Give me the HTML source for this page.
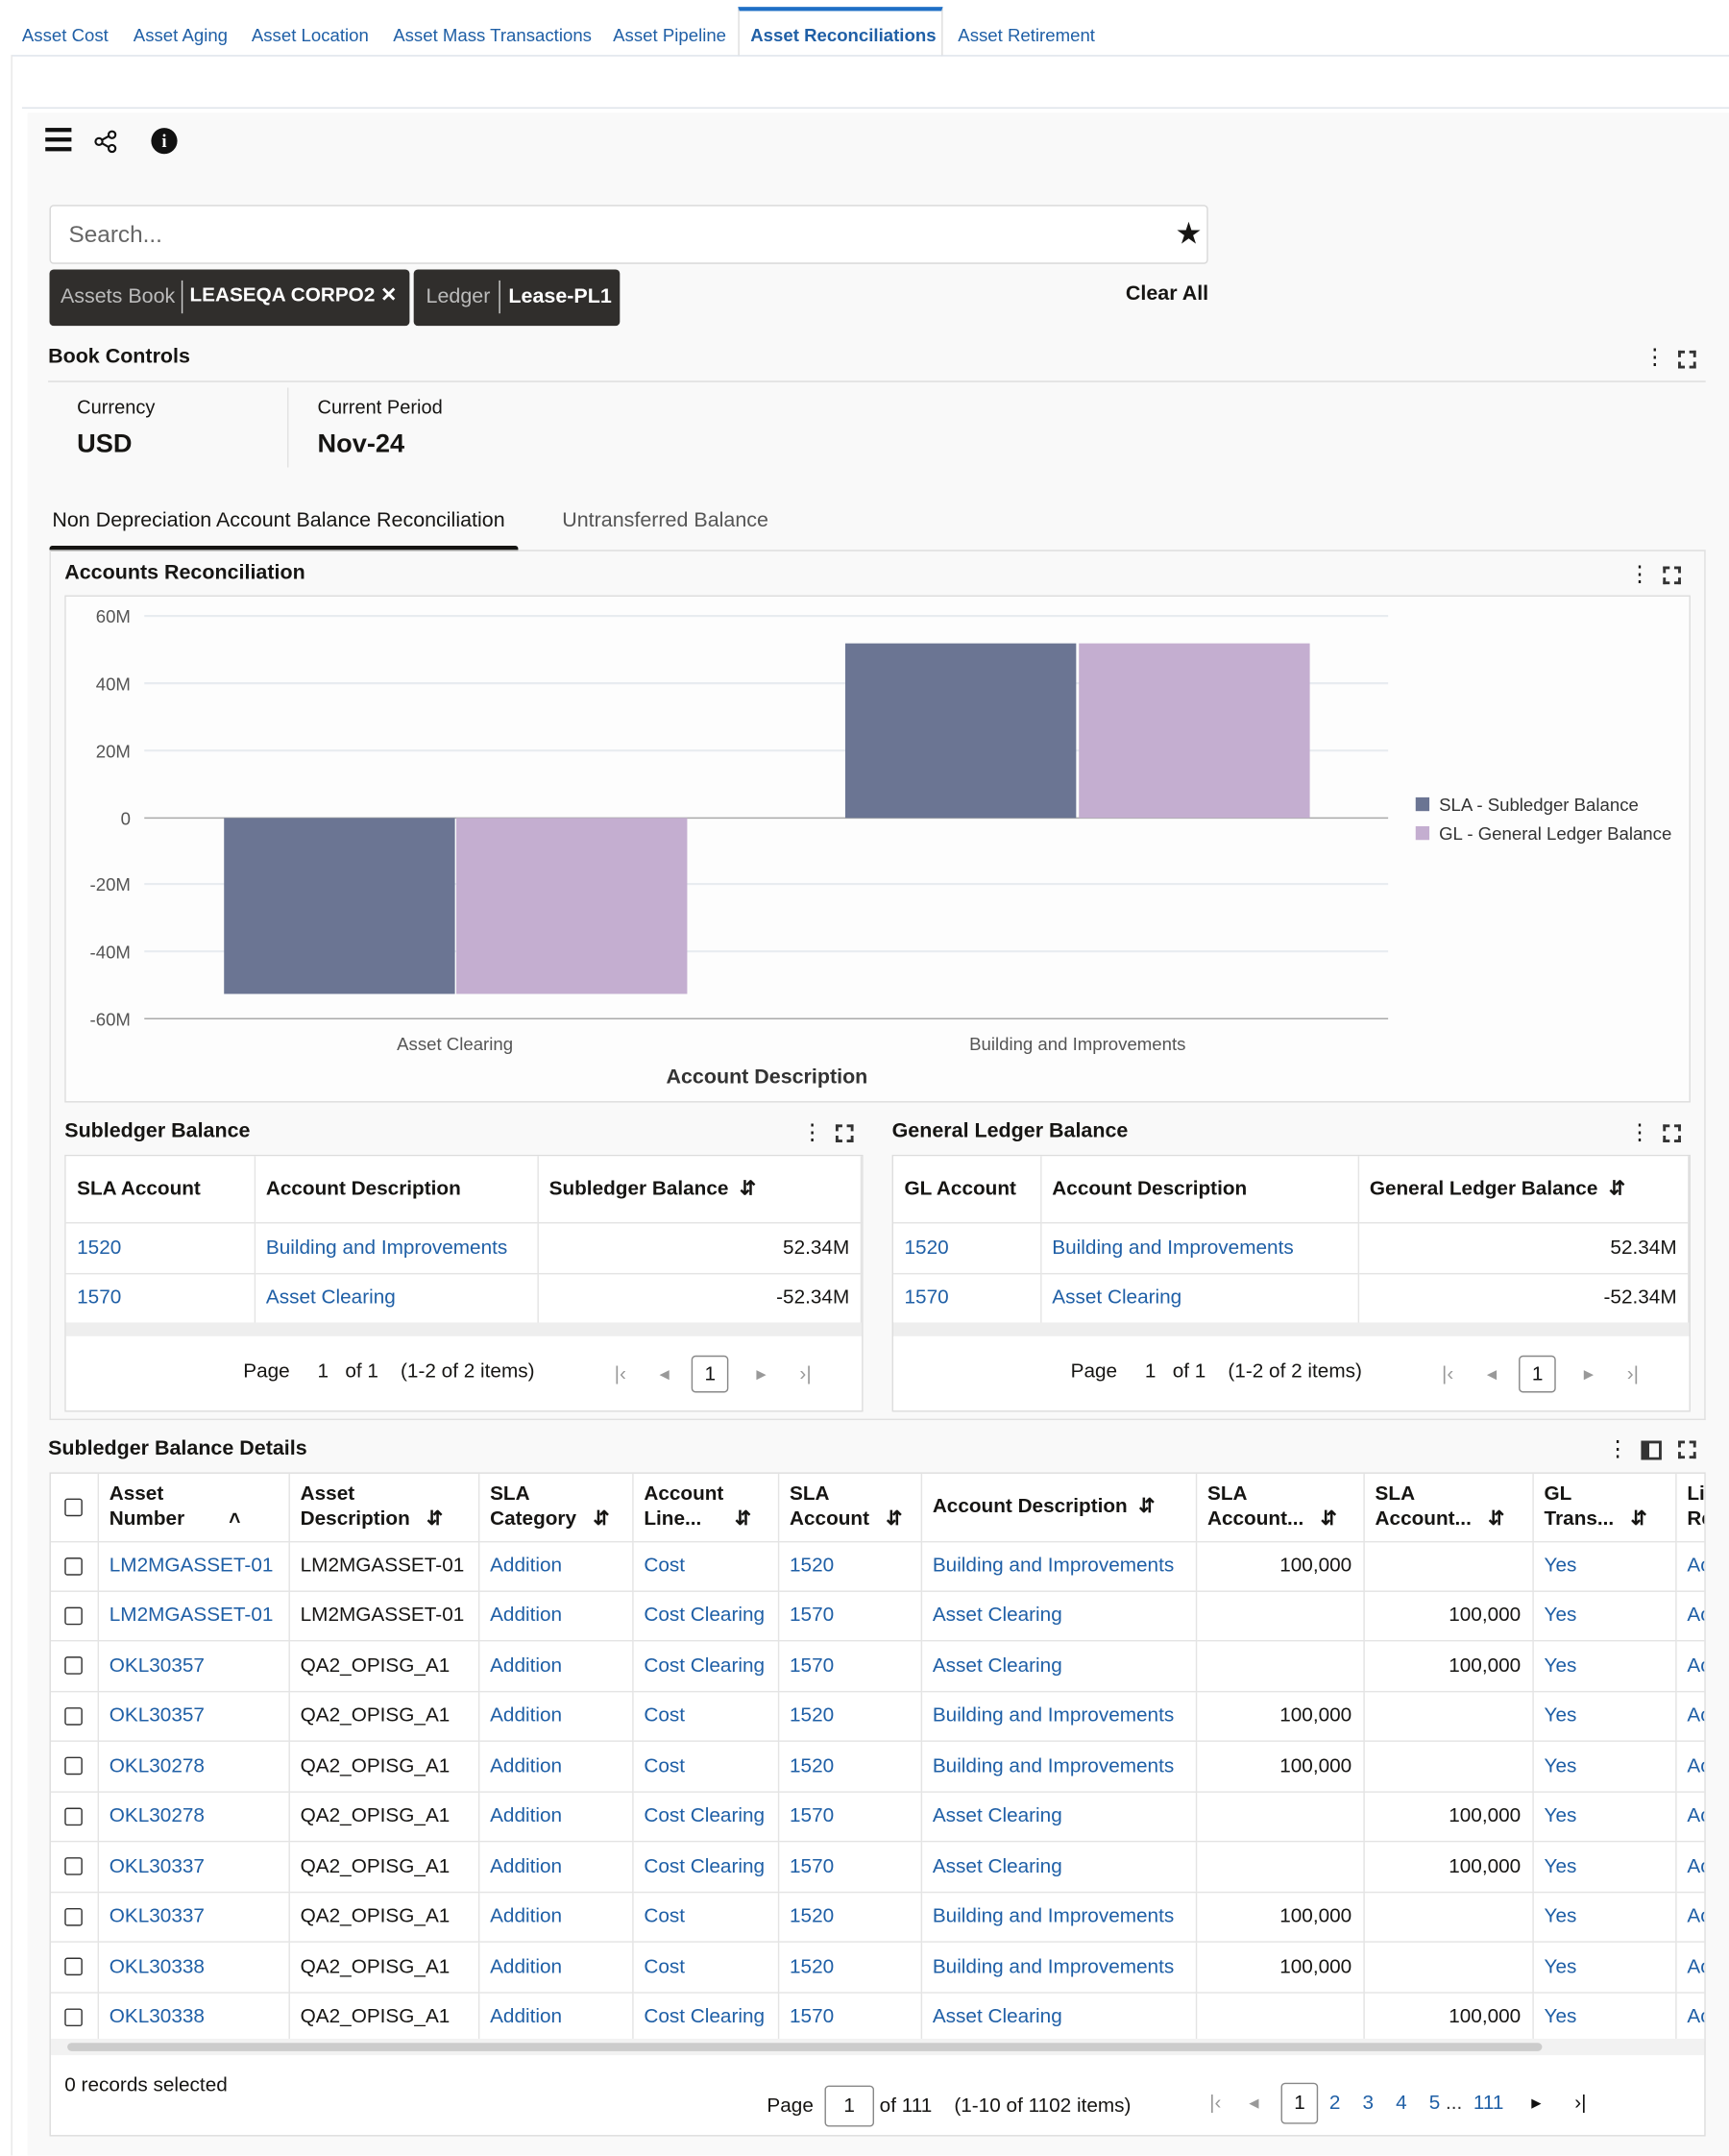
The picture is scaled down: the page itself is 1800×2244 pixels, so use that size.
<!DOCTYPE html>
<html><head><meta charset="utf-8">
<style>
*{box-sizing:border-box;margin:0;padding:0}
html,body{width:1800px;height:2243px;overflow:hidden;background:#fff}
#s{position:absolute;left:0;top:0;width:1258px;height:1568px;transform:scale(1.43084);transform-origin:0 0;font-family:"Liberation Sans",sans-serif;color:#161513}
.a{position:absolute;white-space:nowrap}
.l{color:#1f5fa6}
.b{font-weight:bold}
.t{font-size:13px;color:#1f5fa6;top:18px}
table{border-collapse:collapse;position:absolute;background:#fff}
td,th{border-right:1px solid #e4e4e4;border-bottom:1px solid #e4e4e4;font-size:14.5px;padding:0 8px;text-align:left;white-space:nowrap;overflow:hidden}
th{font-weight:bold;font-size:14.5px}
.r{text-align:right}
.cb{display:inline-block;width:13px;height:13px;border:1.5px solid #333;border-radius:2px;vertical-align:middle}
.pg{position:absolute;font-size:14.5px;white-space:nowrap}
.box1{display:inline-block;border:1px solid #888;border-radius:3px;width:27px;height:27px;text-align:center;line-height:26px}
</style></head><body><div id="s">
<div class="a t" style="left:16px">Asset Cost</div>
<div class="a t" style="left:97px">Asset Aging</div>
<div class="a t" style="left:183px">Asset Location</div>
<div class="a t" style="left:286px">Asset Mass Transactions</div>
<div class="a t" style="left:446px">Asset Pipeline</div>
<div class="a" style="left:537px;top:5px;width:149px;height:36px;border-top:3px solid #1f6fc6;border-left:1px solid #ddd;border-right:1px solid #ddd;background:#fff"></div>
<div class="a t b" style="left:546px;color:#1f5fa6">Asset Reconciliations</div>
<div class="a t" style="left:697px">Asset Retirement</div>
<div class="a" style="left:8px;top:40px;width:1250px;height:1px;background:#dde3ea"></div>
<div class="a" style="left:8px;top:40px;width:1px;height:1528px;background:#e8e8e8"></div>
<div class="a" style="left:16px;top:78px;width:1242px;height:1px;background:#dde3ea"></div>
<div class="a" style="left:20px;top:82px;width:1238px;height:1486px;background:#f9f9f9"></div>
<div class="a" style="left:33px;top:93px;width:19px;height:3px;background:#111;box-shadow:0 7px 0 #111,0 14px 0 #111"></div>
<svg class="a" style="left:68px;top:94px" width="18" height="18"><g stroke="#111" stroke-width="1.5" fill="none"><line x1="4" y1="9" x2="13" y2="4"/><line x1="4" y1="9" x2="13" y2="14"/><circle cx="4" cy="9" r="2.5" fill="#fff"/><circle cx="13.5" cy="4" r="2.5" fill="#fff"/><circle cx="13.5" cy="14" r="2.5" fill="#fff"/></g></svg>
<div class="a" style="left:110px;top:93px;width:19px;height:19px;border-radius:50%;background:#111;color:#fff;font-weight:bold;font-size:13px;text-align:center;line-height:19px;font-family:'Liberation Serif',serif">i</div>
<div class="a" style="left:36px;top:149px;width:843px;height:43px;background:#fff;border:1px solid #d8d8d8;border-radius:3px"></div>
<div class="a" style="left:50px;top:161px;font-size:17px;color:#666">Search...</div>
<div class="a" style="left:855px;top:157px;font-size:22px">&#9733;</div>
<div class="a" style="left:36px;top:196px;width:262px;height:41px;background:#302e2c;border-radius:3px"></div>
<div class="a" style="left:44px;top:207px;font-size:15px;color:#bbb">Assets Book</div>
<div class="a" style="left:132px;top:204px;width:1px;height:24px;background:#ccc"></div>
<div class="a b" style="left:138px;top:207px;font-size:14.5px;color:#fff">LEASEQA CORPO2 &#10005;</div>
<div class="a" style="left:301px;top:196px;width:150px;height:41px;background:#302e2c;border-radius:3px"></div>
<div class="a" style="left:310px;top:207px;font-size:15px;color:#bbb">Ledger</div>
<div class="a" style="left:363px;top:204px;width:1px;height:24px;background:#ccc"></div>
<div class="a b" style="left:370px;top:207px;font-size:15px;color:#fff">Lease-PL1</div>
<div class="a b" style="left:819px;top:205px;font-size:15px">Clear All</div>
<div class="a b" style="left:35px;top:251px;font-size:15px">Book Controls</div>
<div class="a" style="left:1196px;top:250px;font-size:16px">&#8942;</div>
<div class="a" style="left:1221px;top:255px;width:13px;height:13px;border:2px dashed #333"></div>
<div class="a" style="left:35px;top:277px;width:1206px;height:1px;background:#ddd"></div>
<div class="a" style="left:56px;top:288px;font-size:14px">Currency</div>
<div class="a b" style="left:56px;top:313px;font-size:19px">USD</div>
<div class="a" style="left:209px;top:282px;width:1px;height:58px;background:#e2e2e2"></div>
<div class="a" style="left:231px;top:288px;font-size:14px">Current Period</div>
<div class="a b" style="left:231px;top:313px;font-size:19px">Nov-24</div>
<div class="a" style="left:38px;top:370px;font-size:15px">Non Depreciation Account Balance Reconciliation</div>
<div class="a" style="left:409px;top:370px;font-size:15px;color:#555">Untransferred Balance</div>
<div class="a" style="left:36px;top:397px;width:341px;height:4px;background:#161513;border-radius:2px 2px 0 0"></div>
<div class="a" style="left:36px;top:400px;width:1205px;height:633px;border:1px solid #e0e0e0;border-top:1px solid #ddd"></div>
<div class="a b" style="left:47px;top:408px;font-size:15px">Accounts Reconciliation</div>
<div class="a" style="left:1185px;top:408px;font-size:16px">&#8942;</div>
<div class="a" style="left:1210px;top:412px;width:13px;height:13px;border:2px dashed #333"></div>
<div class="a" style="left:47px;top:433px;width:1183px;height:369px;background:#fdfdfd;border:1px solid #ddd"></div>
<svg class="a" style="left:47px;top:433px" width="1183" height="369" font-family="Liberation Sans,sans-serif">
<g stroke="#e8ecf0" stroke-width="1.5">
<line x1="58" x2="963" y1="15" y2="15"/><line x1="58" x2="963" y1="64" y2="64"/><line x1="58" x2="963" y1="113" y2="113"/><line x1="58" x2="963" y1="210" y2="210"/><line x1="58" x2="963" y1="259" y2="259"/></g>
<line x1="58" x2="963" y1="162" y2="162" stroke="#aaa"/>
<line x1="58" x2="963" y1="308" y2="308" stroke="#aaa"/>
<g font-size="13" fill="#555" text-anchor="end">
<text x="48" y="20">60M</text><text x="48" y="69">40M</text><text x="48" y="118">20M</text><text x="48" y="167">0</text><text x="48" y="215">-20M</text><text x="48" y="264">-40M</text><text x="48" y="313">-60M</text></g>
<rect x="116" y="162" width="168" height="128" fill="#6b7593"/>
<rect x="285" y="162" width="168" height="128" fill="#c4aed0"/>
<rect x="568" y="35" width="168" height="127" fill="#6b7593"/>
<rect x="738" y="35" width="168" height="127" fill="#c4aed0"/>
<g font-size="13" fill="#555" text-anchor="middle"><text x="284" y="331">Asset Clearing</text><text x="737" y="331">Building and Improvements</text></g>
<text x="511" y="355" font-size="15" font-weight="bold" fill="#333" text-anchor="middle">Account Description</text>
<rect x="983" y="147" width="10" height="10" fill="#6b7593"/><text x="1000" y="157" font-size="13" fill="#333">SLA - Subledger Balance</text>
<rect x="983" y="168" width="10" height="10" fill="#c4aed0"/><text x="1000" y="178" font-size="13" fill="#333">GL - General Ledger Balance</text>
</svg>
<div class="a b" style="left:47px;top:814px;font-size:15px">Subledger Balance</div>
<div class="a" style="left:583px;top:814px;font-size:16px">&#8942;</div>
<div class="a" style="left:608px;top:818px;width:13px;height:13px;border:2px dashed #333"></div>
<div class="a" style="left:47px;top:840px;width:581px;height:187px;border:1px solid #ddd;background:#fff"></div>
<table style="left:48px;top:841px;width:579px">
<tr style="height:48px"><th style="width:137px">SLA Account</th><th style="width:206px">Account Description</th><th>Subledger Balance &nbsp;&#8693;</th></tr>
<tr style="height:37px"><td class="l">1520</td><td class="l">Building and Improvements</td><td class="r">52.34M</td></tr>
<tr style="height:36px"><td class="l">1570</td><td class="l">Asset Clearing</td><td class="r">-52.34M</td></tr></table>
<div class="a" style="left:48px;top:962px;width:579px;height:10px;background:#eee"></div>
<div class="pg" style="left:177px;top:990px">Page &nbsp;&nbsp;&nbsp;&nbsp;1 &nbsp;&nbsp;of 1 &nbsp;&nbsp;&nbsp;(1-2 of 2 items)</div>
<div class="pg" style="left:447px;top:986px;color:#999">|&#8249; &nbsp;&nbsp;&nbsp;&nbsp;&nbsp;&#9666;&nbsp;&nbsp;&nbsp;&nbsp;<span class="box1" style="color:#111">1</span>&nbsp;&nbsp;&nbsp;&nbsp;&nbsp;&#9656;&nbsp;&nbsp;&nbsp;&nbsp;&nbsp;&nbsp;&#8250;|</div>
<div class="a b" style="left:649px;top:814px;font-size:15px">General Ledger Balance</div>
<div class="a" style="left:1185px;top:814px;font-size:16px">&#8942;</div>
<div class="a" style="left:1210px;top:818px;width:13px;height:13px;border:2px dashed #333"></div>
<div class="a" style="left:649px;top:840px;width:581px;height:187px;border:1px solid #ddd;background:#fff"></div>
<table style="left:650px;top:841px;width:579px">
<tr style="height:48px"><th style="width:107px">GL Account</th><th style="width:231px">Account Description</th><th>General Ledger Balance &nbsp;&#8693;</th></tr>
<tr style="height:37px"><td class="l">1520</td><td class="l">Building and Improvements</td><td class="r">52.34M</td></tr>
<tr style="height:36px"><td class="l">1570</td><td class="l">Asset Clearing</td><td class="r">-52.34M</td></tr></table>
<div class="a" style="left:650px;top:962px;width:579px;height:10px;background:#eee"></div>
<div class="pg" style="left:779px;top:990px">Page &nbsp;&nbsp;&nbsp;&nbsp;1 &nbsp;&nbsp;of 1 &nbsp;&nbsp;&nbsp;(1-2 of 2 items)</div>
<div class="pg" style="left:1049px;top:986px;color:#999">|&#8249; &nbsp;&nbsp;&nbsp;&nbsp;&nbsp;&#9666;&nbsp;&nbsp;&nbsp;&nbsp;<span class="box1" style="color:#111">1</span>&nbsp;&nbsp;&nbsp;&nbsp;&nbsp;&#9656;&nbsp;&nbsp;&nbsp;&nbsp;&nbsp;&nbsp;&#8250;|</div>
<div class="a b" style="left:35px;top:1045px;font-size:15px">Subledger Balance Details</div>
<div class="a" style="left:1169px;top:1044px;font-size:16px">&#8942;</div>
<div class="a" style="left:1194px;top:1048px;width:15px;height:14px;border:2px solid #333;border-left-width:6px"></div>
<div class="a" style="left:1221px;top:1048px;width:13px;height:13px;border:2px dashed #333"></div>
<div class="a" style="left:36px;top:1071px;width:1205px;height:483px;border:1px solid #ddd;background:#fff;overflow:hidden">
<table style="left:0;top:0;width:1240px;table-layout:fixed">
<colgroup><col style="width:34px"><col style="width:139px"><col style="width:138px"><col style="width:112px"><col style="width:106px"><col style="width:104px"><col style="width:200px"><col style="width:122px"><col style="width:123px"><col style="width:104px"><col style="width:58px"></colgroup>
<tr style="height:49px;line-height:18px"><th style="padding:0 0 0 10px"><span class="cb"></span></th><th>Asset<br>Number &nbsp;&nbsp;&nbsp;&nbsp;&nbsp;&nbsp;&nbsp;&#708;</th><th>Asset<br>Description &nbsp;&nbsp;&#8693;</th><th>SLA<br>Category &nbsp;&nbsp;&#8693;</th><th>Account<br>Line... &nbsp;&nbsp;&nbsp;&nbsp;&nbsp;&#8693;</th><th>SLA<br>Account &nbsp;&nbsp;&#8693;</th><th>Account Description &nbsp;&#8693;</th><th>SLA<br>Account... &nbsp;&nbsp;&#8693;</th><th>SLA<br>Account... &nbsp;&nbsp;&#8693;</th><th>GL<br>Trans... &nbsp;&nbsp;&#8693;</th><th>Li<br>Re</th></tr>
<tr style="height:36px"><td style="padding:0 0 0 10px"><span class="cb"></span></td><td class="l">LM2MGASSET-01</td><td>LM2MGASSET-01</td><td class="l">Addition</td><td class="l">Cost</td><td class="l">1520</td><td class="l">Building and Improvements</td><td class="r">100,000</td><td></td><td class="l">Yes</td><td class="l">Ac</td></tr>
<tr style="height:36px"><td style="padding:0 0 0 10px"><span class="cb"></span></td><td class="l">LM2MGASSET-01</td><td>LM2MGASSET-01</td><td class="l">Addition</td><td class="l">Cost Clearing</td><td class="l">1570</td><td class="l">Asset Clearing</td><td></td><td class="r">100,000</td><td class="l">Yes</td><td class="l">Ac</td></tr>
<tr style="height:37px"><td style="padding:0 0 0 10px"><span class="cb"></span></td><td class="l">OKL30357</td><td>QA2_OPISG_A1</td><td class="l">Addition</td><td class="l">Cost Clearing</td><td class="l">1570</td><td class="l">Asset Clearing</td><td></td><td class="r">100,000</td><td class="l">Yes</td><td class="l">Ac</td></tr>
<tr style="height:36px"><td style="padding:0 0 0 10px"><span class="cb"></span></td><td class="l">OKL30357</td><td>QA2_OPISG_A1</td><td class="l">Addition</td><td class="l">Cost</td><td class="l">1520</td><td class="l">Building and Improvements</td><td class="r">100,000</td><td></td><td class="l">Yes</td><td class="l">Ac</td></tr>
<tr style="height:37px"><td style="padding:0 0 0 10px"><span class="cb"></span></td><td class="l">OKL30278</td><td>QA2_OPISG_A1</td><td class="l">Addition</td><td class="l">Cost</td><td class="l">1520</td><td class="l">Building and Improvements</td><td class="r">100,000</td><td></td><td class="l">Yes</td><td class="l">Ac</td></tr>
<tr style="height:36px"><td style="padding:0 0 0 10px"><span class="cb"></span></td><td class="l">OKL30278</td><td>QA2_OPISG_A1</td><td class="l">Addition</td><td class="l">Cost Clearing</td><td class="l">1570</td><td class="l">Asset Clearing</td><td></td><td class="r">100,000</td><td class="l">Yes</td><td class="l">Ac</td></tr>
<tr style="height:37px"><td style="padding:0 0 0 10px"><span class="cb"></span></td><td class="l">OKL30337</td><td>QA2_OPISG_A1</td><td class="l">Addition</td><td class="l">Cost Clearing</td><td class="l">1570</td><td class="l">Asset Clearing</td><td></td><td class="r">100,000</td><td class="l">Yes</td><td class="l">Ac</td></tr>
<tr style="height:36px"><td style="padding:0 0 0 10px"><span class="cb"></span></td><td class="l">OKL30337</td><td>QA2_OPISG_A1</td><td class="l">Addition</td><td class="l">Cost</td><td class="l">1520</td><td class="l">Building and Improvements</td><td class="r">100,000</td><td></td><td class="l">Yes</td><td class="l">Ac</td></tr>
<tr style="height:37px"><td style="padding:0 0 0 10px"><span class="cb"></span></td><td class="l">OKL30338</td><td>QA2_OPISG_A1</td><td class="l">Addition</td><td class="l">Cost</td><td class="l">1520</td><td class="l">Building and Improvements</td><td class="r">100,000</td><td></td><td class="l">Yes</td><td class="l">Ac</td></tr>
<tr style="height:36px"><td style="padding:0 0 0 10px"><span class="cb"></span></td><td class="l">OKL30338</td><td>QA2_OPISG_A1</td><td class="l">Addition</td><td class="l">Cost Clearing</td><td class="l">1570</td><td class="l">Asset Clearing</td><td></td><td class="r">100,000</td><td class="l">Yes</td><td class="l">Ac</td></tr>
</table>
<div class="a" style="left:0;top:411px;width:1205px;height:12px;background:#f2f2f2"></div>
<div class="a" style="left:12px;top:414px;width:1073px;height:6px;background:#ccc;border-radius:3px"></div>
</div>
<div class="pg" style="left:47px;top:1509px">0 records selected</div>
<div class="pg" style="left:558px;top:1517px">Page &nbsp;<span class="box1" style="width:36px;height:30px;line-height:29px">1</span> of 111 &nbsp;&nbsp;&nbsp;(1-10 of 1102 items)</div>
<div class="pg" style="left:880px;top:1515px;color:#999">|&#8249; &nbsp;&nbsp;&nbsp;&nbsp;&#9666; &nbsp;&nbsp;&nbsp;<span class="box1" style="color:#111;height:30px;line-height:29px">1</span>&nbsp;&nbsp;<span class="l">2 &nbsp;&nbsp;&nbsp;3 &nbsp;&nbsp;&nbsp;4 &nbsp;&nbsp;&nbsp;5</span> <span style="color:#333">...</span> <span class="l">&nbsp;111</span> &nbsp;&nbsp;&nbsp;&nbsp;<span style="color:#111">&#9656; &nbsp;&nbsp;&nbsp;&nbsp;&nbsp;&#8250;|</span></div>
</div></body></html>
